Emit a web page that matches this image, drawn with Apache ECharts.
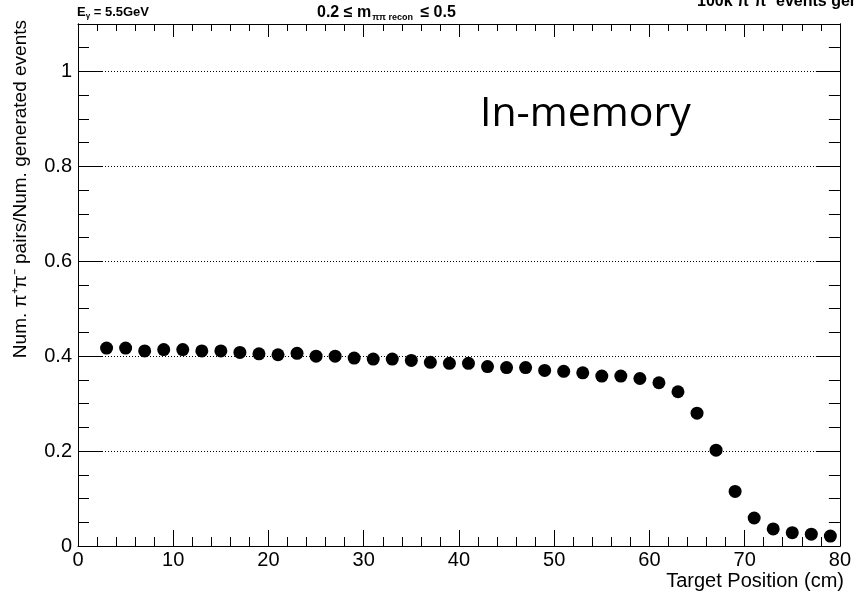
<!DOCTYPE html>
<html>
<head>
<meta charset="utf-8">
<script src="https://cdn.jsdelivr.net/npm/echarts@6/dist/echarts.min.js"></script>
<style>html,body{margin:0;padding:0;background:#fff}#c{width:854px;height:594px}</style>
</head>
<body>
<div id="c"></div>
<script>
// Data
const positions = [3,5,7,9,11,13,15,17,19,21,23,25,27,29,31,33,35,37,39,41,43,45,47,49,51,53,55,57,59,61,63,65,67,69,71,73,75,77,79];
const ratios = [0.417,0.417,0.411,0.414,0.414,0.411,0.411,0.408,0.405,0.403,0.406,0.400,0.400,0.396,0.394,0.394,0.391,0.387,0.385,0.385,0.378,0.376,0.376,0.370,0.368,0.365,0.358,0.358,0.353,0.344,0.325,0.280,0.202,0.115,0.059,0.036,0.028,0.025,0.021];
const xTicks = [0,10,20,30,40,50,60,70,80];
const yTicks = [0,0.2,0.4,0.6,0.8,1];

const FONT = 'Liberation Sans, Arial, sans-serif';
const black = '#000';
const chart = echarts.init(document.getElementById('c'), null, {renderer: 'canvas'});

function xAx(pos, showLabel, majorLen, minorLen) {
  return {
    type: 'value', position: pos, min: xTicks[0], max: xTicks[xTicks.length-1], interval: 10,
    axisLine: {show: true, onZero: false, lineStyle: {color: black, width: 1}},
    axisTick: {show: true, inside: true, length: majorLen, lineStyle: {color: black, width: 1}},
    minorTick: {show: true, splitNumber: 5, length: minorLen, lineStyle: {color: black, width: 1}},
    axisLabel: {show: showLabel, fontSize: 20, color: black, fontFamily: FONT, margin: 4},
    splitLine: {show: false}
  };
}
function yAx(pos, interval, showLabel, tickLen, split) {
  return {
    type: 'value', position: pos, min: 0, max: 1.1, interval: interval,
    axisLine: {show: true, onZero: false, lineStyle: {color: black, width: 1}},
    axisTick: {show: true, inside: true, length: tickLen, lineStyle: {color: black, width: 1}},
    axisLabel: {show: showLabel, fontSize: 20, color: black, fontFamily: FONT, margin: 6,
      formatter: v => (yTicks.some(t => Math.abs(t - v) < 1e-6) ? String(Math.round(v*10)/10) : '')},
    splitLine: {show: split, lineStyle: {color: black, width: 1, type: [1, 2]}}
  };
}

chart.setOption({
  animation: false,
  backgroundColor: '#fff',
  grid: {left: 78, top: 24, width: 766, height: 522},
  xAxis: [xAx('bottom', true, 16, 9), xAx('top', false, 13, 7)],
  yAxis: [
    yAx('left', 0.2, true, 25, true),
    yAx('left', 0.05, false, 11, false),
    yAx('right', 0.2, false, 24, false),
    yAx('right', 0.05, false, 11, false)
  ],
  series: [{
    type: 'scatter', xAxisIndex: 0, yAxisIndex: 0,
    symbol: 'circle', symbolSize: 13,
    itemStyle: {color: black, opacity: 1},
    data: positions.map((p, i) => [p, ratios[i]])
  }],
  graphic: [
    {type: 'text', x: 77, y: 12.5, style: {
      text: '{b|E}{s|γ}{b| = 5.5GeV}', verticalAlign: 'middle',
      rich: {b: {fontSize: 13, fontWeight: 'bold', fontFamily: FONT, fill: black},
             s: {fontSize: 8, fontWeight: 'bold', fontFamily: FONT, fill: black, padding: [7,0,0,0]}}
    }},
    {type: 'text', x: 317, y: 12.5, style: {
      text: '{b|0.2 ≤ m}{s|ππ recon}{b| ≤ 0.5}', verticalAlign: 'middle',
      rich: {b: {fontSize: 16, fontWeight: 'bold', fontFamily: FONT, fill: black},
             s: {fontSize: 9, fontWeight: 'bold', fontFamily: FONT, fill: black, padding: [10,3,0,1]}}
    }},
    {type: 'text', x: 697, y: 10, style: {
      text: '100k π⁺π⁻ events generated', verticalAlign: 'bottom',
      fontSize: 16, fontWeight: 'bold', fontFamily: FONT, fill: black
    }},
    {type: 'text', x: 480, y: 114, style: {
      text: 'In-memory', verticalAlign: 'middle',
      fontSize: 41, fontFamily: 'Open Sans, sans-serif', fill: black
    }},
    {type: 'text', x: 844, y: 581, style: {
      text: 'Target Position (cm)', align: 'right', verticalAlign: 'middle',
      fontSize: 20, fontFamily: FONT, fill: black
    }},
    {type: 'text', x: 21, y: 20, rotation: Math.PI/2, style: {
      text: 'Num. π⁺π⁻ pairs/Num. generated events', align: 'right', verticalAlign: 'middle',
      fontSize: 19, fontFamily: FONT, fill: black
    }}
  ]
});
</script>
</body>
</html>
